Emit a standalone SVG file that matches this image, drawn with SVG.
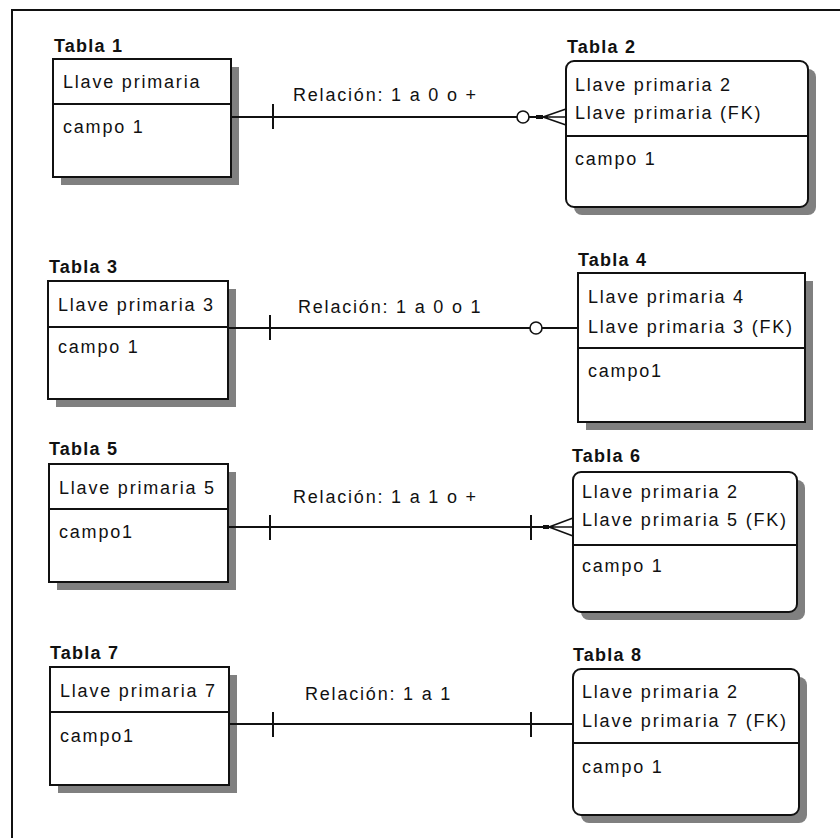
<svg xmlns="http://www.w3.org/2000/svg" width="840" height="838" viewBox="0 0 840 838">
<style>
.t{font-family:"Liberation Sans",Arial,sans-serif;font-size:18px;letter-spacing:1.8px;fill:#111}
.h{font-weight:bold;letter-spacing:1.2px}
.box{fill:#fff;stroke:#111;stroke-width:2}
.sh{fill:#808080}
.ln{stroke:#111;stroke-width:2;fill:none}
.cf{stroke:#111;stroke-width:1.6;fill:none}
</style>
<rect x="0" y="0" width="840" height="838" fill="#fff"/>
<path class="ln" d="M12,838 V10 H840"/>

<g id="tabla1">
<text class="t h" x="54" y="52">Tabla 1</text>
<rect class="sh" x="61" y="67" width="178" height="118"/>
<rect class="box" x="53" y="59" width="178" height="118"/>
<line class="ln" x1="53" y1="104" x2="231" y2="104"/>
<text class="t" x="63" y="88">Llave primaria</text>
<text class="t" x="63" y="133">campo 1</text>
</g>

<g id="tabla2">
<text class="t h" x="567" y="53">Tabla 2</text>
<rect class="sh" x="574" y="69" width="242" height="146" rx="8"/>
<rect class="box" x="566" y="61" width="242" height="146" rx="8"/>
<line class="ln" x1="566" y1="136" x2="808" y2="136"/>
<text class="t" x="575" y="91">Llave primaria 2</text>
<text class="t" x="575" y="119">Llave primaria (FK)</text>
<text class="t" x="575" y="165">campo 1</text>
</g>

<g id="tabla3">
<text class="t h" x="49" y="273">Tabla 3</text>
<rect class="sh" x="56" y="289" width="180" height="118"/>
<rect class="box" x="48" y="281" width="180" height="118"/>
<line class="ln" x1="48" y1="327" x2="228" y2="327"/>
<text class="t" x="58" y="311">Llave primaria 3</text>
<text class="t" x="58" y="353">campo 1</text>
</g>

<g id="tabla4">
<text class="t h" x="578" y="266">Tabla 4</text>
<rect class="sh" x="586" y="281" width="227" height="149"/>
<rect class="box" x="578" y="273" width="227" height="149"/>
<line class="ln" x1="578" y1="348" x2="805" y2="348"/>
<text class="t" x="588" y="303">Llave primaria 4</text>
<text class="t" x="588" y="333">Llave primaria 3 (FK)</text>
<text class="t" x="588" y="377">campo1</text>
</g>

<g id="tabla5">
<text class="t h" x="49" y="455">Tabla 5</text>
<rect class="sh" x="57" y="472" width="179" height="118"/>
<rect class="box" x="49" y="464" width="179" height="118"/>
<line class="ln" x1="49" y1="509" x2="228" y2="509"/>
<text class="t" x="59" y="494">Llave primaria 5</text>
<text class="t" x="59" y="538">campo1</text>
</g>

<g id="tabla6">
<text class="t h" x="572" y="462">Tabla 6</text>
<rect class="sh" x="581" y="480" width="224" height="140" rx="8"/>
<rect class="box" x="573" y="472" width="224" height="140" rx="8"/>
<line class="ln" x1="573" y1="545" x2="797" y2="545"/>
<text class="t" x="582" y="498">Llave primaria 2</text>
<text class="t" x="582" y="526">Llave primaria 5 (FK)</text>
<text class="t" x="582" y="572">campo 1</text>
</g>

<g id="tabla7">
<text class="t h" x="50" y="659">Tabla 7</text>
<rect class="sh" x="58" y="675" width="179" height="118"/>
<rect class="box" x="50" y="667" width="179" height="118"/>
<line class="ln" x1="50" y1="712" x2="229" y2="712"/>
<text class="t" x="60" y="697">Llave primaria 7</text>
<text class="t" x="60" y="742">campo1</text>
</g>

<g id="tabla8">
<text class="t h" x="573" y="661">Tabla 8</text>
<rect class="sh" x="581" y="677" width="226" height="146" rx="8"/>
<rect class="box" x="573" y="669" width="226" height="146" rx="8"/>
<line class="ln" x1="573" y1="743" x2="799" y2="743"/>
<text class="t" x="582" y="698">Llave primaria 2</text>
<text class="t" x="582" y="727">Llave primaria 7 (FK)</text>
<text class="t" x="582" y="773">campo 1</text>
</g>

<g id="connectors">
<!-- 1 a 0 o + -->
<line class="ln" x1="231" y1="117" x2="517" y2="117"/>
<line class="ln" x1="273" y1="104" x2="273" y2="129"/>
<circle cx="523" cy="117" r="6" fill="#fff" stroke="#111" stroke-width="1.6"/>
<line class="ln" x1="529" y1="117" x2="536" y2="117"/>
<rect x="536" y="115" width="7" height="4" fill="#111"/>
<path class="cf" d="M543,117 L566,109 M543,117 H566 M543,117 L566,125"/>
<text class="t" x="293" y="101">Relación: 1 a 0 o +</text>

<!-- 1 a 0 o 1 -->
<line class="ln" x1="228" y1="328" x2="530" y2="328"/>
<line class="ln" x1="270" y1="315" x2="270" y2="340"/>
<circle cx="536" cy="328" r="6" fill="#fff" stroke="#111" stroke-width="1.6"/>
<line class="ln" x1="542" y1="328" x2="578" y2="328"/>
<text class="t" x="298" y="313">Relación: 1 a 0 o 1</text>

<!-- 1 a 1 o + -->
<line class="ln" x1="228" y1="527" x2="543" y2="527"/>
<line class="ln" x1="270" y1="515" x2="270" y2="540"/>
<line class="ln" x1="531" y1="515" x2="531" y2="540"/>
<rect x="543" y="525" width="6" height="4" fill="#111"/>
<path class="cf" d="M549,527 L573,518 M549,527 H573 M549,527 L573,536"/>
<text class="t" x="293" y="503">Relación: 1 a 1 o +</text>

<!-- 1 a 1 -->
<line class="ln" x1="229" y1="724" x2="573" y2="724"/>
<line class="ln" x1="273" y1="712" x2="273" y2="737"/>
<line class="ln" x1="531" y1="712" x2="531" y2="737"/>
<text class="t" x="305" y="700">Relación: 1 a 1</text>
</g>
</svg>
